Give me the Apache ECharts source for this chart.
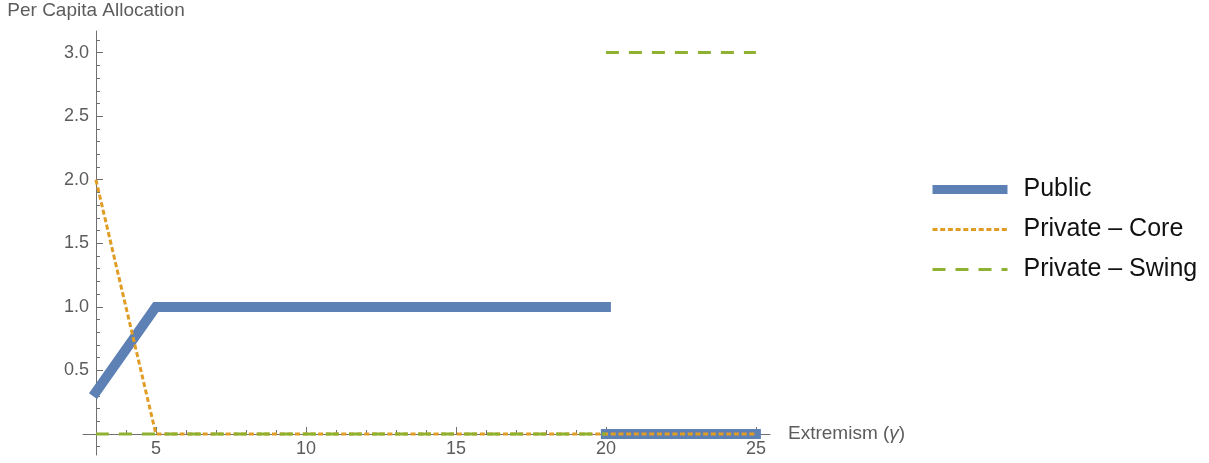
<!DOCTYPE html>
<html>
<head>
<meta charset="utf-8">
<script src="https://cdn.jsdelivr.net/npm/echarts@6/dist/echarts.min.js"></script>
<style>
  html, body { margin: 0; padding: 0; background: #fff; }
  #chart { width: 1209px; height: 463px; }
</style>
</head>
<body>
<div id="chart"></div>
<script>
// Per capita allocation as a function of extremism (gamma)
const BREAK = '-';   // gap marker: splits a line into separate pieces

const publicPts = [[3, 0.33], [5, 1], [20, 1], [20, BREAK], [20, 0], [25, 0]];
const corePts   = [[3, 2], [5, 0], [25, 0]];
const swingPts  = [[3, 0], [20, 0], [20, BREAK], [20, 3], [25, 3]];

const seriesNames = ['Public', 'Private – Core', 'Private – Swing'];

const xMajorTicks = [5, 10, 15, 20, 25];
const xMinorTicks = [4, 6, 7, 8, 9, 11, 12, 13, 14, 16, 17, 18, 19, 21, 22, 23, 24];
const yMajorTicks = [0.5, 1.0, 1.5, 2.0, 2.5, 3.0];
const yMinorTicks = [-0.1, 0.1, 0.2, 0.3, 0.4, 0.6, 0.7, 0.8, 0.9, 1.1, 1.2, 1.3, 1.4,
                     1.6, 1.7, 1.8, 1.9, 2.1, 2.2, 2.3, 2.4, 2.6, 2.7, 2.8, 2.9, 3.1];

const xRange = [2.57, 25.47];
const yRange = [-0.165, 3.17];

const AXIS = '#6f6f6f';
const TICK_TEXT = '#5c5c5c';
const FONT = '"Liberation Sans", Arial, Helvetica, sans-serif';

// plot box; the horizontal axis sits at y = 0 and the vertical one at x = 3
const GRID = { left: 83, right: 439, top: 31, bottom: 8 };
const PLOT_W = 1209 - GRID.left - GRID.right;
const PLOT_H = 463 - GRID.top - GRID.bottom;
const xAxisLift = Math.round(PLOT_H * (0 - yRange[0]) / (yRange[1] - yRange[0]));
const yAxisShift = Math.round(PLOT_W * (3 - xRange[0]) / (xRange[1] - xRange[0]));

const chart = echarts.init(document.getElementById('chart'), null, { renderer: 'canvas' });

function xAxisDef(major) {
  return {
    type: 'value', min: xRange[0], max: xRange[1], position: 'bottom', offset: -xAxisLift,
    axisLine: { show: major, onZero: false, lineStyle: { color: AXIS, width: 1 } },
    axisTick: {
      show: true, inside: true, length: major ? 7 : 4,
      customValues: major ? xMajorTicks : xMinorTicks,
      lineStyle: { color: AXIS, width: 1 }
    },
    axisLabel: {
      show: major, customValues: xMajorTicks, margin: 6,
      color: TICK_TEXT, fontSize: 18, fontFamily: FONT
    },
    splitLine: { show: false },
    name: major ? 'Extremism ({g|γ})' : '',
    nameLocation: 'end', nameGap: 18,
    nameTextStyle: {
      color: TICK_TEXT, fontSize: 19, fontFamily: FONT,
      rich: { g: { fontStyle: 'italic', fontSize: 19, color: TICK_TEXT, fontFamily: FONT } }
    }
  };
}

function yAxisDef(major) {
  return {
    type: 'value', min: yRange[0], max: yRange[1], position: 'left', offset: -yAxisShift,
    axisLine: { show: major, onZero: false, lineStyle: { color: AXIS, width: 1 } },
    axisTick: {
      show: true, inside: true, length: major ? 7 : 4,
      customValues: major ? yMajorTicks : yMinorTicks,
      lineStyle: { color: AXIS, width: 1 }
    },
    axisLabel: {
      show: major, customValues: yMajorTicks, margin: 7,
      formatter: v => Number(v).toFixed(1),
      color: TICK_TEXT, fontSize: 18, fontFamily: FONT
    },
    splitLine: { show: false },
    name: major ? 'Per Capita Allocation' : '',
    nameLocation: 'end', nameGap: 11,
    nameTextStyle: { color: TICK_TEXT, fontSize: 19, fontFamily: FONT, align: 'center' }
  };
}

const styles = [
  { color: '#5E81B5', width: 10, type: 'solid', cap: 'square' },
  { color: '#E19C24', width: 3, type: [5, 2.7], cap: 'butt' },
  { color: '#8FB131', width: 3, type: [13, 10], cap: 'butt' }
];
const dataSets = [publicPts, corePts, swingPts];

chart.setOption({
  animation: false,
  backgroundColor: '#ffffff',
  grid: Object.assign({ containLabel: false, outerBoundsMode: 'none' }, GRID),
  xAxis: [xAxisDef(true), xAxisDef(false)],
  yAxis: [yAxisDef(true), yAxisDef(false)],
  legend: {
    orient: 'vertical', left: 923, top: 172,
    itemWidth: 75, itemHeight: 26, itemGap: 15,
    textStyle: { color: '#111', fontSize: 25, fontFamily: FONT, padding: [0, 0, 0, 11] },
    data: seriesNames.map((n, i) => ({
      name: n,
      itemStyle: { opacity: 0 },
      lineStyle: { color: styles[i].color, width: i === 0 ? 9 : 3, type: styles[i].type, cap: 'butt', opacity: 1 }
    }))
  },
  series: dataSets.map((d, i) => ({
    name: seriesNames[i], type: 'line', data: d,
    xAxisIndex: 0, yAxisIndex: 0,
    symbol: 'none', showSymbol: false, connectNulls: false,
    color: styles[i].color,
    lineStyle: { color: styles[i].color, width: styles[i].width, type: styles[i].type, cap: styles[i].cap, join: 'miter' },
    z: 2 + i
  }))
});
</script>
</body>
</html>
